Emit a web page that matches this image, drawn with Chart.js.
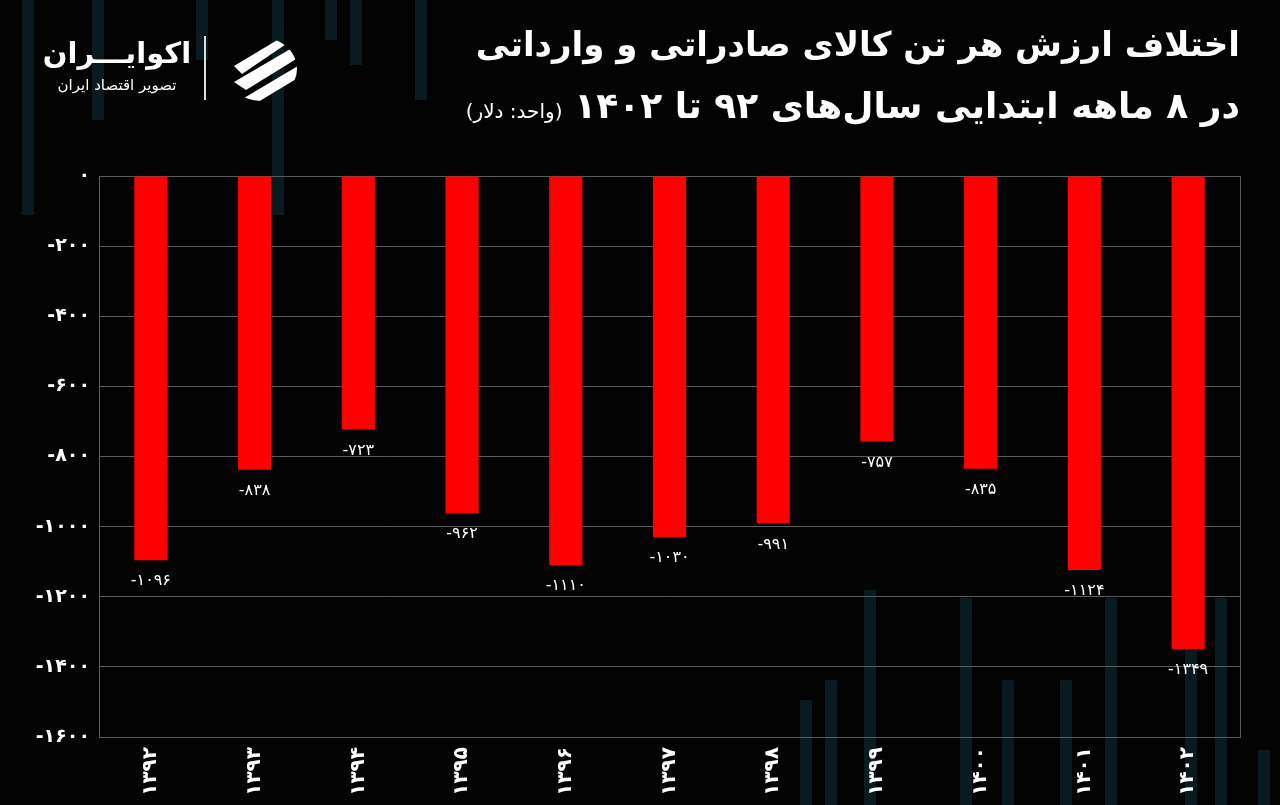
<!DOCTYPE html>
<html>
<head>
<meta charset="utf-8">
<script src="https://cdn.jsdelivr.net/npm/chart.js@4.4.0/dist/chart.umd.min.js"></script>
<style>
	body { margin: 0; background: #030303; }
	#wrap { position: relative; width: 1280px; height: 805px; overflow: hidden; background: #030303; }
	.deco { position: absolute; background: #0a1a21; width: 12px; }
	#chart { position: absolute; left: 0; top: 0; }
	#title { position: absolute; right: 40px; top: 13px; direction: rtl; text-align: right; color: #fff;
		font-family: 'DejaVu Sans', sans-serif; font-weight: bold; font-size: 34px; line-height: 62px; white-space: nowrap; }
	#title .l2 { font-size: 36px; }
	#title small { font-size: 20px; font-weight: normal; }
	#logo { position: absolute; left: 40px; width: 154px; top: 32px; direction: rtl; color: #fff; font-family: 'DejaVu Sans', sans-serif; text-align: center; }
	#logo .big { font-size: 29px; font-weight: bold; line-height: 42px; white-space: nowrap; }
	#logo .sub { font-size: 15px; line-height: 22px; white-space: nowrap; }
	#sep { position: absolute; left: 204px; top: 36px; width: 2px; height: 64px; background: #ddd; }
	#icon { position: absolute; left: 224px; top: 36px; }
</style>
</head>
<body>
<div id="wrap">
	<div class="deco" style="left:22px;top:0;height:215px"></div>
	<div class="deco" style="left:92px;top:0;height:120px"></div>
	<div class="deco" style="left:196px;top:0;height:60px"></div>
	<div class="deco" style="left:272px;top:0;height:215px"></div>
	<div class="deco" style="left:325px;top:0;height:40px"></div>
	<div class="deco" style="left:350px;top:0;height:65px"></div>
	<div class="deco" style="left:415px;top:0;height:100px"></div>
	<div class="deco" style="left:800px;top:700px;height:105px"></div>
	<div class="deco" style="left:825px;top:680px;height:125px"></div>
	<div class="deco" style="left:864px;top:590px;height:215px"></div>
	<div class="deco" style="left:960px;top:598px;height:207px"></div>
	<div class="deco" style="left:1002px;top:680px;height:125px"></div>
	<div class="deco" style="left:1060px;top:680px;height:125px"></div>
	<div class="deco" style="left:1105px;top:598px;height:207px"></div>
	<div class="deco" style="left:1185px;top:598px;height:207px"></div>
	<div class="deco" style="left:1215px;top:598px;height:207px"></div>
	<div class="deco" style="left:1258px;top:750px;height:55px"></div>
	<canvas id="chart" width="1280" height="805"></canvas>
	<div id="title">اختلاف ارزش هر تن کالای صادراتی و وارداتی<br><span class="l2">در ۸ ماهه ابتدایی سال‌های ۹۲ تا ۱۴۰۲</span> <small>(واحد: دلار)</small></div>
	<div id="logo"><div class="big">اکوایـــران</div><div class="sub">تصویر اقتصاد ایران</div></div>
	<div id="sep"></div>
	<svg id="icon" width="74" height="66" viewBox="0 0 74 66">
		<defs><clipPath id="c"><ellipse cx="37" cy="33" rx="36" ry="32"/></clipPath></defs>
		<g clip-path="url(#c)" fill="#fff">
			<polygon points="10,30 60,0 74,0 18,38"/>
			<polygon points="10,46 68,12 74,22 22,54"/>
			<polygon points="20,62 74,30 74,42 34,66"/>
		</g>
	</svg>
</div>
<script>
const years = [1392, 1393, 1394, 1395, 1396, 1397, 1398, 1399, 1400, 1401, 1402]
const diffValues = [-1096, -838, -723, -962, -1110, -1030, -991, -757, -835, -1124, -1349]

const faDigits = '۰۱۲۳۴۵۶۷۸۹'
const toFa = n => String(n).replace(/\d/g, d => faDigits[d])

const frame = {
	id: 'frame',
	beforeDatasetsDraw(chart) {
		const { ctx, chartArea: a } = chart
		ctx.save()
		ctx.strokeStyle = '#5c5c5c'
		ctx.lineWidth = 1
		ctx.strokeRect(a.left + 0.5, a.top + 0.5, a.right - a.left, a.bottom - a.top)
		ctx.restore()
	}
}

const valueLabels = {
	id: 'valueLabels',
	afterDatasetsDraw(chart) {
		const ctx = chart.ctx
		ctx.save()
		ctx.fillStyle = '#fff'
		ctx.font = '16px "DejaVu Sans"'
		ctx.textAlign = 'center'
		ctx.textBaseline = 'middle'
		chart.getDatasetMeta(0).data.forEach((bar, i) => {
			ctx.fillText(toFa(diffValues[i]), bar.x, bar.y + 21)
		})
		ctx.restore()
	}
}

const ctxChart = document.getElementById('chart')
new Chart(ctxChart, {
	type: 'bar',
	data: {
		labels: years.map(toFa),
		datasets: [{
			data: diffValues,
			backgroundColor: '#ff0000',
			barPercentage: 0.64,
			categoryPercentage: 0.5
		}]
	},
	options: {
		responsive: false,
		animation: false,
		layout: { padding: { top: 176, right: 40, bottom: 8, left: 0 } },
		plugins: { legend: { display: false }, tooltip: { enabled: false } },
		scales: {
			x: {
				grid: { display: false },
				border: { display: false },
				afterFit: s => { s.height = 60 },
				ticks: {
					color: '#fff',
					font: { family: 'DejaVu Sans', size: 20, weight: 'bold' },
					minRotation: 90,
					maxRotation: 90,
					padding: 2,
					autoSkip: false
				}
			},
			y: {
				min: -1600,
				max: 0,
				afterFit: s => {
					s.width = 99
					s.paddingTop = 0
					s.paddingBottom = 0
				},
				grid: { color: '#5c5c5c', drawTicks: false },
				border: { display: false },
				ticks: {
					stepSize: 200,
					color: '#fff',
					padding: 9,
					font: { family: 'DejaVu Sans', size: 19, weight: 'bold' },
					callback: v => toFa(v)
				}
			}
		}
	},
	plugins: [frame, valueLabels]
})
</script>
</body>
</html>
